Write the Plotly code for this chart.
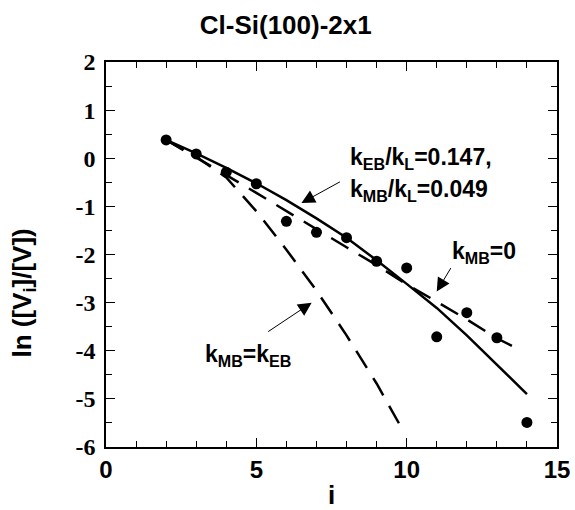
import plotly.graph_objects as go

# Data
i_pts = [2, 3, 4, 5, 6, 7, 8, 9, 10, 11, 12, 13, 14]
ln_pts = [0.38, 0.09, -0.29, -0.53, -1.31, -1.54, -1.65, -2.14, -2.28, -3.71, -3.21, -3.73, -5.49]

i_fit = [2, 3, 4, 5, 6, 7, 8, 9, 10, 11, 12, 13, 14]
ln_fit = [0.38, 0.10, -0.20, -0.52, -0.87, -1.25, -1.65, -2.12, -2.61, -3.11, -3.68, -4.28, -4.90]

i_mb0 = [2, 3, 4, 5, 6, 7, 8, 9, 10, 11, 12, 13, 13.5]
ln_mb0 = [0.38, 0.02, -0.35, -0.72, -1.10, -1.48, -1.85, -2.22, -2.62, -2.98, -3.35, -3.74, -3.90]

i_mbeb = [2, 3, 4, 5, 6, 7, 8, 9, 9.88]
ln_mbeb = [0.38, 0.03, -0.40, -1.10, -1.90, -2.75, -3.68, -4.68, -5.66]

x_ticks = [0, 5, 10, 15]
x_labels = ["0", "5", "10", "15"]
y_ticks = [2, 1, 0, -1, -2, -3, -4, -5, -6]
y_labels = ["2", "1", "0", "-1", "-2", "-3", "-4", "-5", "-6"]

fig = go.Figure()
fig.add_trace(go.Scatter(x=i_fit, y=ln_fit, mode="lines",
                         line=dict(color="black", width=2.5), showlegend=False))
fig.add_trace(go.Scatter(x=i_mb0, y=ln_mb0, mode="lines",
                         line=dict(color="black", width=2.5, dash="20px,12px"), showlegend=False))
fig.add_trace(go.Scatter(x=i_mbeb, y=ln_mbeb, mode="lines",
                         line=dict(color="black", width=2.5, dash="20px,12px"), showlegend=False))
fig.add_trace(go.Scatter(x=i_pts, y=ln_pts, mode="markers",
                         marker=dict(color="black", size=11), showlegend=False))

sans = "Liberation Sans"
lab_font = dict(family=sans, size=23, color="black")

anns = [
    dict(x=8.05, y=0.0, text="<b>k<sub>EB</sub>/k<sub>L</sub>=0.147,</b>", showarrow=False,
         xanchor="left", yanchor="middle", font=lab_font),
    dict(x=8.05, y=-0.68, text="<b>k<sub>MB</sub>/k<sub>L</sub>=0.049</b>", showarrow=False,
         xanchor="left", yanchor="middle", font=lab_font),
    dict(x=11.45, y=-1.95, text="<b>k<sub>MB</sub>=0</b>", showarrow=False,
         xanchor="left", yanchor="middle", font=lab_font),
    dict(x=3.22, y=-4.1, text="<b>k<sub>MB</sub>=k<sub>EB</sub></b>", showarrow=False,
         xanchor="left", yanchor="middle", font=lab_font),
    # arrows
    dict(x=6.5, y=-0.93, ax=40, ay=-22, text="", showarrow=True, arrowhead=2,
         arrowsize=2.7, arrowwidth=1, arrowcolor="black"),
    dict(x=11.0, y=-2.77, ax=15, ay=-25, text="", showarrow=True, arrowhead=2,
         arrowsize=2.7, arrowwidth=1, arrowcolor="black"),
    dict(x=6.84, y=-3.0, ax=-45, ay=30, text="", showarrow=True, arrowhead=2,
         arrowsize=2.7, arrowwidth=1, arrowcolor="black"),
    # y-axis title
    dict(xref="paper", yref="paper", x=-0.185, y=0.40,
         text="<b>ln ([V<sub>i</sub>]/[V])</b>", textangle=-90, showarrow=False,
         xanchor="center", yanchor="middle",
         font=dict(family=sans, size=26, color="black")),
]

fig.update_layout(
    width=575, height=510,
    margin=dict(l=106, r=18, t=62, b=63, autoexpand=False),
    paper_bgcolor="white", plot_bgcolor="white",
    title=dict(text="<b>Cl-Si(100)-2x1</b>", x=0.497, xanchor="center", y=0.951, yanchor="middle",
               font=dict(family=sans, size=26, color="black")),
    annotations=anns,
    xaxis=dict(range=[0, 15], tickvals=x_ticks, ticktext=["<b>%s</b>" % t for t in x_labels],
               ticks="inside", ticklen=9, tickwidth=1.2, automargin=False,
               tickcolor="black", showline=True, linecolor="black", linewidth=1.5,
               mirror="allticks", showgrid=False, zeroline=False,
               minor=dict(dtick=1, ticks="inside", ticklen=6, tickcolor="black", tickwidth=1.2),
               tickfont=dict(family=sans, size=24, color="black"),
               title=dict(text="<b>i</b>", font=dict(family=sans, size=26, color="black"),
                          standoff=8)),
    yaxis=dict(range=[-6, 2], tickvals=y_ticks, ticktext=["<b>%s</b>" % t for t in y_labels],
               ticks="inside", ticklen=9, tickwidth=1.2, automargin=False,
               ticklabelstandoff=4,
               tickcolor="black", showline=True, linecolor="black", linewidth=1.5,
               mirror="allticks", showgrid=False, zeroline=False,
               minor=dict(dtick=0.5, ticks="inside", ticklen=6, tickcolor="black", tickwidth=1.2),
               tickfont=dict(family="Liberation Serif", size=24, color="black")),
)

fig.write_html("out.html", config={"displayModeBar": False},
               post_script="document.body.style.margin='0';")
